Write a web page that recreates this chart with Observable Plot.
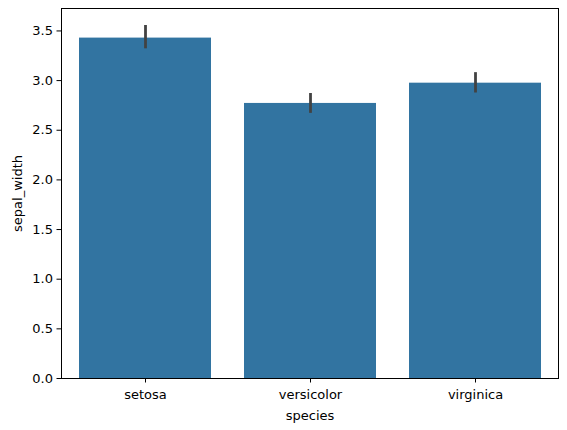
<!DOCTYPE html>
<html>
<head>
<meta charset="utf-8">
<script src="https://cdn.jsdelivr.net/npm/d3@7"></script>
<script src="https://cdn.jsdelivr.net/npm/@observablehq/plot@0.6"></script>
<style>
  html, body { margin: 0; padding: 0; background: #fff; }
</style>
</head>
<body>
<div id="chart"></div>
<script>
const species = ["setosa", "versicolor", "virginica"];
const means = [3.428, 2.770, 2.974];
const ciLow = [3.32, 2.67, 2.875];
const ciHigh = [3.555, 2.87, 3.08];
const yTicks = [0, 0.5, 1.0, 1.5, 2.0, 2.5, 3.0, 3.5];

const data = species.map((s, i) => ({species: s, mean: means[i], lo: ciLow[i], hi: ciHigh[i]}));

const chart = Plot.plot({
  width: 567,
  height: 430,
  marginLeft: 61,
  marginRight: 9,
  marginTop: 8,
  marginBottom: 52,
  style: {fontFamily: "DejaVu Sans", fontSize: "13px", background: "#fff", color: "#000"},
  x: {domain: species, paddingInner: 0.2, paddingOuter: 0.1},
  y: {domain: [0, 3.726]},
  marks: [
    Plot.barY(data, {x: "species", y: "mean", fill: "#3274a1"}),
    Plot.ruleX(data, {x: "species", y1: "lo", y2: "hi", stroke: "#424242", strokeWidth: 2.8}),
    Plot.frame({stroke: "#000", strokeWidth: 1}),
    Plot.axisY({ticks: yTicks, tickFormat: d3.format(".1f"), tickSize: 4.5, tickPadding: 4, label: "sepal_width", labelAnchor: "center", labelArrow: "none", labelOffset: 49, fontSize: 13}),
    Plot.axisX({tickSize: 4.5, tickPadding: 7, label: "species", labelAnchor: "center", labelArrow: "none", labelOffset: 41, fontSize: 13})
  ]
});
document.getElementById("chart").appendChild(chart);
</script>
</body>
</html>
